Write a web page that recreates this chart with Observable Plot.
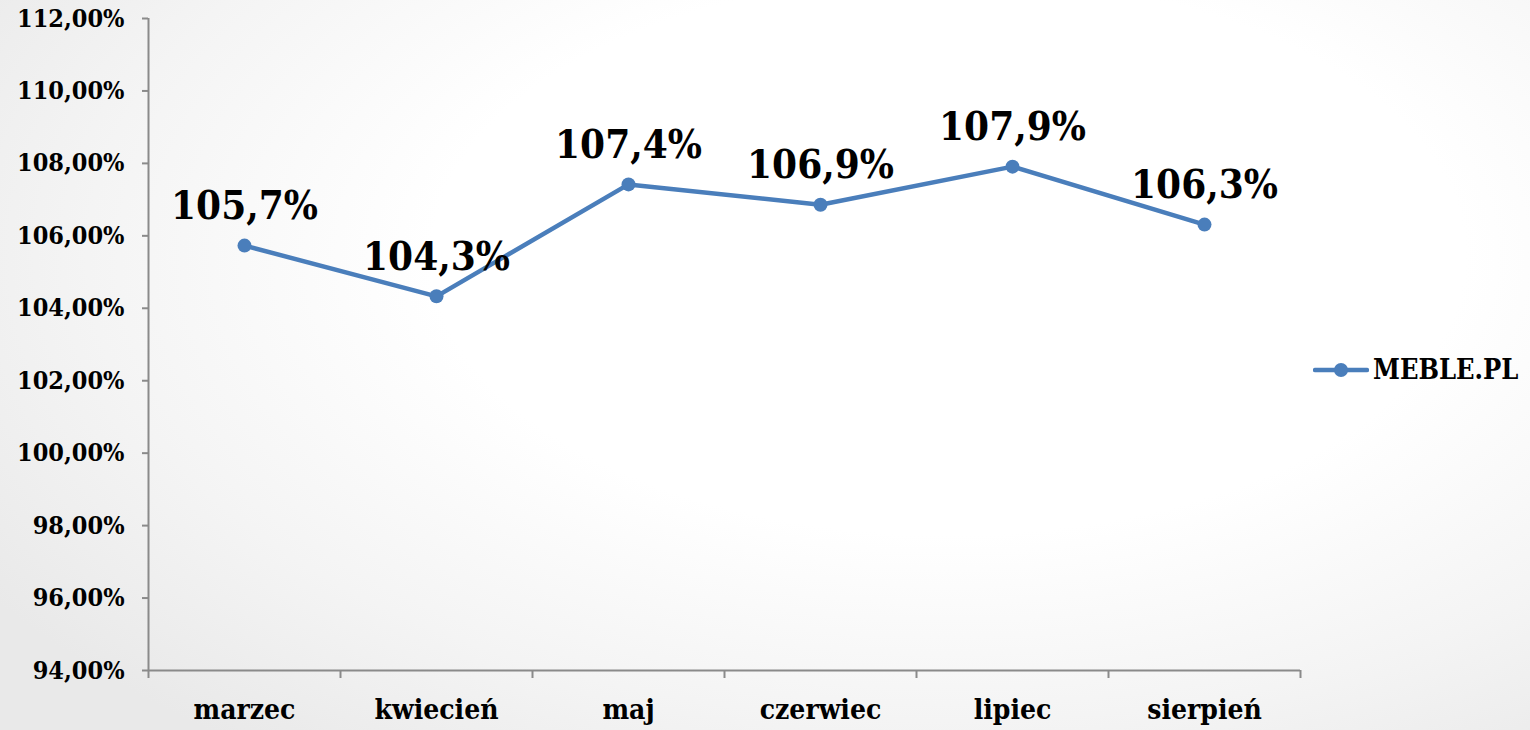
<!DOCTYPE html>
<html>
<head>
<meta charset="utf-8">
<script src="https://cdn.jsdelivr.net/npm/d3@7"></script>
<script src="https://cdn.jsdelivr.net/npm/@observablehq/plot@0.6"></script>
<style>
  html, body { margin: 0; padding: 0; }
  body {
    width: 1530px; height: 730px; overflow: hidden; position: relative;
    background: radial-gradient(ellipse 75% 85% at 62% 35%, #ffffff 45%, #f4f4f4 75%, #e9e9e9 100%);
    font-family: "DejaVu Serif Condensed", "DejaVu Serif", serif;
  }
  #chart { position: absolute; left: 0; top: 0; }
  #legend {
    position: absolute; left: 1313px; top: 354px; display: flex; align-items: center;
    font-family: "DejaVu Serif Condensed", "DejaVu Serif", serif; font-weight: bold; font-size: 27px; color: #000;
  }
  #legend svg { margin-right: 4px; }
</style>
</head>
<body>
<div id="chart"></div>
<div id="legend"></div>
<script>
const months = ["marzec", "kwiecień", "maj", "czerwiec", "lipiec", "sierpień"];
const values = [105.73, 104.33, 107.42, 106.86, 107.91, 106.31];
const valueLabels = ["105,7%", "104,3%", "107,4%", "106,9%", "107,9%", "106,3%"];
const yTicks = [94, 96, 98, 100, 102, 104, 106, 108, 110, 112];
const seriesName = "MEBLE.PL";

const lineColor = "#4a7ebb";
const axisColor = "#8a8a8a";

const data = months.map((m, i) => ({pos: i + 0.5, month: m, value: values[i], label: valueLabels[i]}));

const chart = Plot.plot({
  width: 1530,
  height: 730,
  marginLeft: 148,
  marginRight: 230,
  marginTop: 18,
  marginBottom: 60,
  style: {fontFamily: "'DejaVu Serif Condensed', 'DejaVu Serif', serif", fontWeight: "bold", background: "transparent", color: "#000"},
  x: {domain: [0, months.length]},
  y: {domain: [94, 112]},
  marks: [
    Plot.axisY({ticks: yTicks, tickSize: 6, tickPadding: 18, fontSize: 25, stroke: axisColor, strokeWidth: 2, fill: "#000",
      tickFormat: d => d.toFixed(2).replace(".", ",") + "%", label: null}),
    Plot.axisX({ticks: d3.range(0, months.length + 1), tickSize: 8, stroke: axisColor, strokeWidth: 2, tickFormat: () => "", label: null}),
    Plot.axisX({ticks: d3.range(0.5, months.length), tickSize: 0, tickPadding: 29, fontSize: 28, fill: "#000",
      tickFormat: d => months[Math.floor(d)], label: null}),
    Plot.ruleX([0], {stroke: axisColor, strokeWidth: 2}),
    Plot.ruleY([94], {stroke: axisColor, strokeWidth: 2}),
    Plot.line(data, {x: "pos", y: "value", stroke: lineColor, strokeWidth: 4.5}),
    Plot.dot(data, {x: "pos", y: "value", r: 7, fill: lineColor, stroke: "none"}),
    Plot.text(data, {x: "pos", y: "value", text: "label", dy: -39, fontSize: 40, fontWeight: "bold", fill: "#000"})
  ]
});
document.getElementById("chart").appendChild(chart);

const legend = document.getElementById("legend");
legend.innerHTML = `<svg width="56" height="26"><line x1="2" y1="13" x2="54" y2="13" stroke="${lineColor}" stroke-width="4.5" stroke-linecap="round"/><circle cx="28" cy="13" r="7" fill="${lineColor}"/></svg><span>${seriesName}</span>`;
</script>
</body>
</html>
